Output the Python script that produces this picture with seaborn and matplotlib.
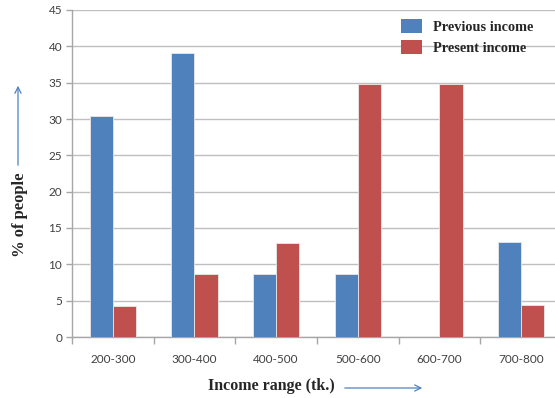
import matplotlib
matplotlib.use("Agg")
import matplotlib.pyplot as plt
import seaborn as sns
import pandas as pd
from matplotlib.patches import Patch, FancyArrowPatch

categories = ["200-300", "300-400", "400-500", "500-600", "600-700", "700-800"]
previous_income = [30.4, 39.1, 8.7, 8.7, 0.0, 13.1]
present_income = [4.3, 8.7, 13.0, 34.8, 34.8, 4.4]
series_names = ["Previous income", "Present income"]
y_ticks = list(range(0, 50, 5))

df = pd.DataFrame({
    "range": categories * 2,
    "value": previous_income + present_income,
    "series": [series_names[0]] * len(categories) + [series_names[1]] * len(categories),
})

sns.set_theme(style="white")
plt.rcParams["font.family"] = ["Lato", "DejaVu Sans"]

blue = "#4F81BD"
red = "#C0504D"
W, H = 555, 398
fig = plt.figure(figsize=(W / 100, H / 100), dpi=100)
left, right, top, bottom = 72, 562, 10, 337
ax = fig.add_axes([left / W, 1 - bottom / H, (right - left) / W, (bottom - top) / H])

sns.barplot(data=df, x="range", y="value", hue="series", order=categories,
            hue_order=series_names, palette=[blue, red], saturation=1, width=0.57,
            edgecolor="#e8e8e8", linewidth=0.6, ax=ax, legend=False, zorder=3)

ax.set_xlim(-0.5, len(categories) - 0.5)
ax.set_ylim(0, 45)
ax.set_yticks(y_ticks)
ax.yaxis.grid(True, color="#BFBFBF", linewidth=1.0, zorder=0)
ax.set_axisbelow(True)
ax.set_xlabel("")
ax.set_ylabel("")

for s in ["top", "right"]:
    ax.spines[s].set_visible(False)
for s in ["left", "bottom"]:
    ax.spines[s].set_color("#A6A6A6")
    ax.spines[s].set_linewidth(1.0)

ax.tick_params(axis="y", which="major", direction="out", length=4, width=1,
               color="#A6A6A6", labelsize=8.5, labelcolor="#404040", pad=3, left=True)
ax.set_xticks(range(len(categories)))
ax.set_xticklabels(categories)
ax.tick_params(axis="x", which="major", length=0, labelsize=8.5, labelcolor="#404040", pad=12)
ax.set_xticks([i - 0.5 for i in range(len(categories) + 1)], minor=True)
ax.tick_params(axis="x", which="minor", direction="out", length=5, width=1,
               color="#A6A6A6", bottom=True)

serif = ["Liberation Serif", "DejaVu Serif"]
fig.text(271 / W, 1 - 386 / H, "Income range (tk.)", family=serif, weight="bold",
         fontsize=11.5, ha="center", va="center")
fig.text(20 / W, 1 - 215 / H, "% of people", family=serif, weight="bold",
         fontsize=12, ha="center", va="center", rotation=90)

arrow_kw = dict(arrowstyle="->", color=blue, lw=0.9, mutation_scale=11)
fig.add_artist(FancyArrowPatch(
    (342 / W, 1 - 388 / H), (425 / W, 1 - 388 / H), transform=fig.transFigure, **arrow_kw))
fig.add_artist(FancyArrowPatch(
    (18 / W, 1 - 168 / H), (18 / W, 1 - 83 / H), transform=fig.transFigure, **arrow_kw))

handles = [Patch(facecolor=blue, edgecolor="none"), Patch(facecolor=red, edgecolor="none")]
fig.legend(handles, series_names, loc="upper left", bbox_to_anchor=(401 / W, 1 - 19 / H),
           frameon=False, prop={"family": serif, "weight": "bold", "size": 10.3},
           handlelength=1.5, handleheight=1.1, handletextpad=0.75, labelspacing=0.45,
           borderpad=0, borderaxespad=0)

fig.savefig("out.png", dpi=100)
